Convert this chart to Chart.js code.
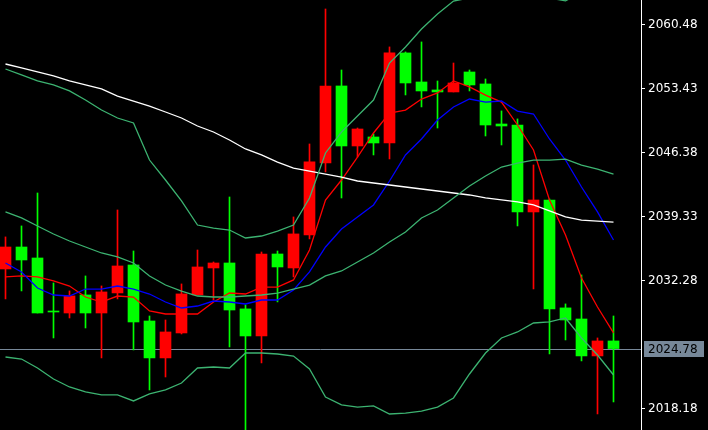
<!DOCTYPE html>
<html>
<head>
<meta charset="utf-8">
<title>Price chart</title>
<style>
  html, body { margin: 0; padding: 0; background: #000; overflow: hidden; }
  canvas { display: block; }
</style>
</head>
<body>
<canvas id="priceChart" width="708" height="430"></canvas>
<script src="https://cdn.jsdelivr.net/npm/chart.js"></script>
<script>
// candles, oldest first
const opens = [2033.55, 2035.97, 2034.76, 2028.85, 2028.70, 2030.69, 2028.70, 2030.91, 2033.99, 2027.82,
    2023.75, 2026.50, 2030.69, 2033.66, 2034.21, 2029.15, 2026.17, 2035.20, 2033.66, 2037.30,
    2045.23, 2053.71, 2047.10, 2048.09, 2047.43, 2057.35, 2054.15, 2053.27, 2053.05, 2055.25,
    2053.93, 2049.52, 2049.41, 2039.83, 2041.15, 2029.26, 2028.04, 2023.97, 2025.62];
const highs = [2037.08, 2038.29, 2041.92, 2032.01, 2031.13, 2032.78, 2031.68, 2040.05, 2035.53, 2028.37,
    2027.93, 2031.90, 2035.64, 2034.32, 2041.48, 2029.59, 2035.42, 2035.53, 2039.28, 2047.32,
    2062.19, 2055.47, 2049.08, 2048.42, 2058.01, 2057.46, 2058.56, 2054.26, 2056.24, 2055.47,
    2054.48, 2050.96, 2050.08, 2045.01, 2041.26, 2029.70, 2032.89, 2025.95, 2028.37];
const lows = [2030.25, 2031.13, 2028.70, 2025.95, 2028.15, 2027.05, 2023.75, 2030.25, 2024.63, 2020.22,
    2021.65, 2026.39, 2030.69, 2030.14, 2024.96, 2015.00, 2023.20, 2029.92, 2032.67, 2036.86,
    2044.24, 2041.37, 2045.89, 2046.11, 2045.67, 2052.72, 2051.40, 2049.08, 2053.05, 2053.16,
    2048.20, 2047.21, 2038.29, 2031.35, 2024.19, 2025.73, 2023.42, 2017.58, 2018.90];
const closes = [2035.97, 2034.54, 2028.70, 2028.81, 2030.58, 2028.70, 2031.02, 2033.88, 2027.71, 2023.75,
    2026.61, 2030.80, 2033.77, 2034.21, 2029.03, 2026.17, 2035.20, 2033.77, 2037.41, 2045.34,
    2053.71, 2047.10, 2048.97, 2047.43, 2057.35, 2054.04, 2053.16, 2053.05, 2054.04, 2053.82,
    2049.41, 2049.30, 2039.83, 2041.15, 2029.15, 2027.93, 2023.97, 2025.62, 2024.78];

// indicator lines
const slowMA = [2056.13, 2055.69, 2055.25, 2054.81, 2054.26, 2053.82, 2053.38, 2052.60, 2052.05, 2051.50,
    2050.84, 2050.18, 2049.30, 2048.64, 2047.76, 2046.77, 2046.11, 2045.33, 2044.67, 2044.34,
    2044.01, 2043.68, 2043.24, 2043.02, 2042.80, 2042.58, 2042.36, 2042.14, 2041.92, 2041.70,
    2041.37, 2041.15, 2040.93, 2040.60, 2039.94, 2039.28, 2038.94, 2038.83, 2038.72];
const fastMA = [2032.67, 2032.78, 2032.67, 2032.23, 2031.67, 2030.46, 2029.91, 2030.57, 2030.46, 2028.92,
    2028.59, 2028.59, 2028.59, 2029.91, 2030.90, 2030.79, 2031.56, 2031.56, 2032.34, 2035.64,
    2041.15, 2043.35, 2045.88, 2048.53, 2050.73, 2051.06, 2052.27, 2052.94, 2054.26, 2053.60,
    2052.71, 2051.94, 2049.41, 2046.66, 2041.15, 2037.29, 2032.56, 2029.36, 2026.50];
const midMA = [2034.21, 2033.22, 2031.45, 2030.68, 2030.57, 2031.34, 2031.34, 2031.67, 2031.34, 2030.79,
    2029.91, 2029.25, 2029.47, 2030.02, 2029.91, 2029.69, 2030.13, 2030.13, 2031.23, 2033.22,
    2035.97, 2037.95, 2039.28, 2040.60, 2043.24, 2046.11, 2047.87, 2049.96, 2051.39, 2052.27,
    2051.94, 2052.05, 2050.95, 2050.62, 2047.87, 2045.55, 2042.58, 2039.83, 2036.74];
const bandUpper = [2055.58, 2054.92, 2054.26, 2053.82, 2053.16, 2052.16, 2051.06, 2050.18, 2049.63, 2045.55,
    2043.35, 2041.04, 2038.39, 2038.06, 2037.84, 2036.96, 2037.18, 2037.73, 2038.39, 2041.37,
    2046.33, 2048.64, 2050.40, 2052.16, 2056.24, 2058.00, 2059.99, 2061.64, 2063.07, 2063.40,
    2063.40, 2063.62, 2063.84, 2063.51, 2063.40, 2063.08, 2064.06, 2065.05, 2066.15];
const bandMiddle = [2039.83, 2039.17, 2038.28, 2037.40, 2036.63, 2035.97, 2035.31, 2034.87, 2034.21, 2032.78,
    2031.78, 2031.12, 2030.57, 2030.46, 2030.46, 2030.57, 2030.68, 2030.90, 2031.34, 2031.78,
    2032.78, 2033.33, 2034.32, 2035.31, 2036.52, 2037.62, 2039.17, 2040.05, 2041.37, 2042.69,
    2043.79, 2044.78, 2045.22, 2045.55, 2045.55, 2045.66, 2045.00, 2044.56, 2044.01];
const bandLower = [2023.85, 2023.63, 2022.64, 2021.43, 2020.55, 2020.00, 2019.67, 2019.67, 2019.01, 2019.78,
    2020.22, 2020.99, 2022.64, 2022.75, 2022.64, 2024.29, 2024.29, 2024.18, 2023.96, 2022.53,
    2019.45, 2018.57, 2018.34, 2018.46, 2017.57, 2017.68, 2017.90, 2018.34, 2019.34, 2021.98,
    2024.29, 2025.95, 2026.61, 2027.60, 2027.71, 2028.15, 2025.95, 2024.07, 2021.87];

const tickValues = [2060.48, 2053.43, 2046.38, 2039.33, 2032.28, 2018.18];
const lastPrice = 2024.78;

const UP = '#ff0000';
const DOWN = '#00ff00';
const BAND = '#3cb371';
const candleColors = opens.map((o, i) => closes[i] >= o ? UP : DOWN);
const toPoints = arr => arr.map((v, i) => ({ x: i, y: v }));

function lineSet(data, color) {
    return {
        type: 'line',
        data: toPoints(data),
        borderColor: color,
        borderWidth: 1.3,
        pointRadius: 0,
        tension: 0,
        fill: false,
        order: 0
    };
}

// bid line + price box on the axis
const priceMarker = {
    id: 'priceMarker',
    beforeDatasetsDraw(chart) {
        const { ctx, chartArea, scales } = chart;
        const y = Math.round(scales.y.getPixelForValue(lastPrice)) + 0.5;
        ctx.save();
        ctx.strokeStyle = '#778899';
        ctx.lineWidth = 1;
        ctx.beginPath();
        ctx.moveTo(chartArea.left, y);
        ctx.lineTo(chartArea.right, y);
        ctx.stroke();
        ctx.restore();
    },
    afterDraw(chart) {
        const { ctx, chartArea, scales } = chart;
        const y = Math.round(scales.y.getPixelForValue(lastPrice));
        ctx.save();
        ctx.fillStyle = '#778899';
        ctx.fillRect(chartArea.right + 3, y - 8, 60, 16);
        ctx.fillStyle = '#000';
        ctx.font = '12px "DejaVu Sans"';
        ctx.textBaseline = 'middle';
        ctx.fillText(lastPrice.toFixed(2), chartArea.right + 7, y + 1);
        ctx.restore();
    }
};

const ctx = document.getElementById('priceChart').getContext('2d');

let priceChart = new Chart(ctx, {
    type: 'bar',
    data: {
        datasets: [
            lineSet(bandUpper, BAND),
            lineSet(bandMiddle, BAND),
            lineSet(bandLower, BAND),
            lineSet(slowMA, '#ffffff'),
            lineSet(midMA, '#0000ff'),
            lineSet(fastMA, '#ff0000'),
            {
                label: 'body',
                data: opens.map((o, i) => ({ x: i, y: [o, closes[i]] })),
                backgroundColor: candleColors,
                borderWidth: 0,
                grouped: false,
                barPercentage: 1,
                categoryPercentage: 1,
                maxBarThickness: 11,
                minBarLength: 1,
                order: 1
            },
            {
                label: 'wick',
                data: lows.map((l, i) => ({ x: i, y: [l, highs[i]] })),
                backgroundColor: candleColors,
                borderWidth: 0,
                grouped: false,
                barPercentage: 1,
                categoryPercentage: 1,
                maxBarThickness: 1,
                order: 2
            }
        ]
    },
    options: {
        responsive: false,
        animation: false,
        events: [],
        layout: { padding: 0 },
        plugins: {
            legend: { display: false },
            tooltip: { enabled: false }
        },
        scales: {
            x: {
                type: 'linear',
                display: false,
                offset: false,
                min: -0.34375,
                max: 39.71875,
                // one tick per bar so the bar width ruler sees a 16px step
                afterBuildTicks: scale => {
                    scale.ticks = opens.map((o, i) => ({ value: i }));
                }
            },
            y: {
                position: 'right',
                min: 2015.81,
                max: 2063.18,
                afterBuildTicks: scale => {
                    scale.ticks = tickValues.map(v => ({ value: v }));
                },
                afterFit: scale => {
                    scale.width = 67;
                    scale.paddingTop = 0;
                    scale.paddingBottom = 0;
                },
                border: { display: true, color: '#ffffff', width: 1 },
                grid: {
                    drawOnChartArea: false,
                    drawTicks: true,
                    tickLength: 4,
                    tickColor: '#ffffff'
                },
                ticks: {
                    color: '#ffffff',
                    padding: 3,
                    font: { family: 'DejaVu Sans', size: 12 },
                    callback: v => v.toFixed(2)
                }
            }
        }
    },
    plugins: [priceMarker]
});
</script>
</body>
</html>
